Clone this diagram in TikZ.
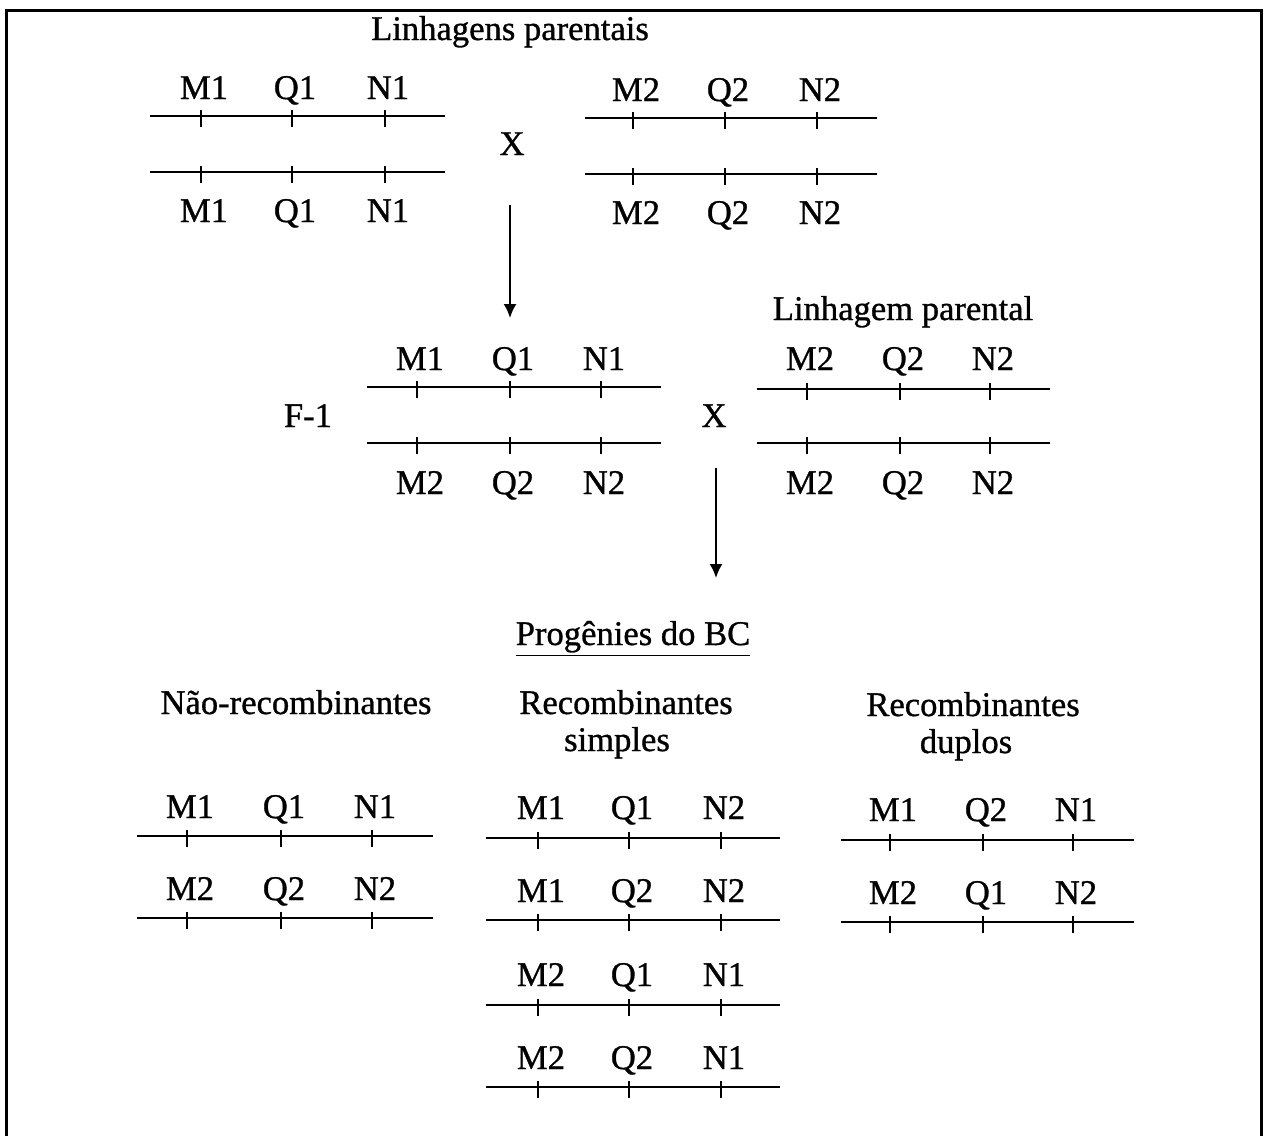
\documentclass[tikz,border=0pt]{standalone}
\usepackage{fontspec}
\setmainfont{Liberation Serif}[FakeBold=0.9]
\usetikzlibrary{arrows.meta}

% one chromosome: name, x-left, x-right, y, three marker positions
\newcommand\chromline[7]{%
  \coordinate (#1-l) at (#2,#4);
  \coordinate (#1-r) at (#3,#4);
  \draw[chrom] (#1-l) -- (#1-r);
  \foreach \t in {#5,#6,#7} \draw[marktick] (\t,#4-6) -- (\t,#4+11);
}
% three marker labels: name, baseline y, three x positions, three texts
\newcommand\markers[8]{%
  \node[lbl] (#1-a) at (#3+3,#2) {#6};
  \node[lbl] (#1-b) at (#4+3,#2) {#7};
  \node[lbl] (#1-c) at (#5+3,#2) {#8};
}

\begin{document}
\begin{tikzpicture}[x=0.5pt,y=-0.5pt,
  lbl/.style={anchor=base,inner sep=0pt,font=\fontsize{17.3}{20}\selectfont},
  chrom/.style={line width=1pt},
  marktick/.style={line width=1pt},
  flow/.style={line width=1pt,-{Latex[length=7pt,width=6.5pt]}},
  frame/.style={line width=1.5pt}]
\useasboundingbox (0,0) rectangle (1267,1135);
\fill[white] (0,0) rectangle (1267,1135);

% outer frame
\draw[frame] (6,1150) -- (6,10) -- (1261,10) -- (1261,1150);

% parental lines
\node[lbl] (title1) at (510,40) {Linhagens parentais};
\markers{p1u}{99}{201}{292}{385}{M1}{Q1}{N1}
\chromline{p1a}{150}{445}{116}{201}{292}{385}
\chromline{p1b}{150}{445}{172}{201}{292}{385}
\markers{p1d}{222}{201}{292}{385}{M1}{Q1}{N1}

\node[lbl] (x1) at (512,155) {X};

\markers{p2u}{101}{633}{725}{817}{M2}{Q2}{N2}
\chromline{p2a}{585}{877}{118}{633}{725}{817}
\chromline{p2b}{585}{877}{174}{633}{725}{817}
\markers{p2d}{224}{633}{725}{817}{M2}{Q2}{N2}

\coordinate (a1s) at (510,205);
\coordinate (a1e) at (510,318);
\draw[flow] (a1s) -- (a1e);

% F-1 and backcross parent
\node[lbl] (title2) at (903,320) {Linhagem parental};
\node[lbl] (f1) at (308,427) {F-1};
\markers{f1u}{370}{417}{510}{601}{M1}{Q1}{N1}
\chromline{f1a}{367}{661}{387}{417}{510}{601}
\chromline{f1b}{367}{661}{443}{417}{510}{601}
\markers{f1d}{494}{417}{510}{601}{M2}{Q2}{N2}

\node[lbl] (x2) at (714,427) {X};

\markers{p3u}{370}{807}{900}{990}{M2}{Q2}{N2}
\chromline{p3a}{757}{1050}{389}{807}{900}{990}
\chromline{p3b}{757}{1050}{443}{807}{900}{990}
\markers{p3d}{494}{807}{900}{990}{M2}{Q2}{N2}

\coordinate (a2s) at (716,468);
\coordinate (a2e) at (716,578);
\draw[flow] (a2s) -- (a2e);

% backcross progeny
\node[lbl] (title3) at (633,645) {\underline{Progênies do BC}};

\node[lbl] (h1) at (296,714) {Não-recombinantes};
\node[lbl] (h2a) at (626,714) {Recombinantes};
\node[lbl] (h2b) at (617,751) {simples};
\node[lbl] (h3a) at (973,716) {Recombinantes};
\node[lbl] (h3b) at (966,753) {duplos};

% non-recombinant
\markers{n1}{818}{187}{281}{372}{M1}{Q1}{N1}
\chromline{n1l}{137}{433}{836}{187}{281}{372}
\markers{n2}{900}{187}{281}{372}{M2}{Q2}{N2}
\chromline{n2l}{137}{433}{918}{187}{281}{372}

% single recombinants
\markers{s1}{819}{538}{629}{721}{M1}{Q1}{N2}
\chromline{s1l}{486}{780}{838}{538}{629}{721}
\markers{s2}{902}{538}{629}{721}{M1}{Q2}{N2}
\chromline{s2l}{486}{780}{920}{538}{629}{721}
\markers{s3}{986}{538}{629}{721}{M2}{Q1}{N1}
\chromline{s3l}{486}{780}{1005}{538}{629}{721}
\markers{s4}{1069}{538}{629}{721}{M2}{Q2}{N1}
\chromline{s4l}{486}{780}{1087}{538}{629}{721}

% double recombinants
\markers{d1}{821}{890}{983}{1073}{M1}{Q2}{N1}
\chromline{d1l}{841}{1134}{840}{890}{983}{1073}
\markers{d2}{904}{890}{983}{1073}{M2}{Q1}{N2}
\chromline{d2l}{841}{1134}{922}{890}{983}{1073}
\end{tikzpicture}
\end{document}
